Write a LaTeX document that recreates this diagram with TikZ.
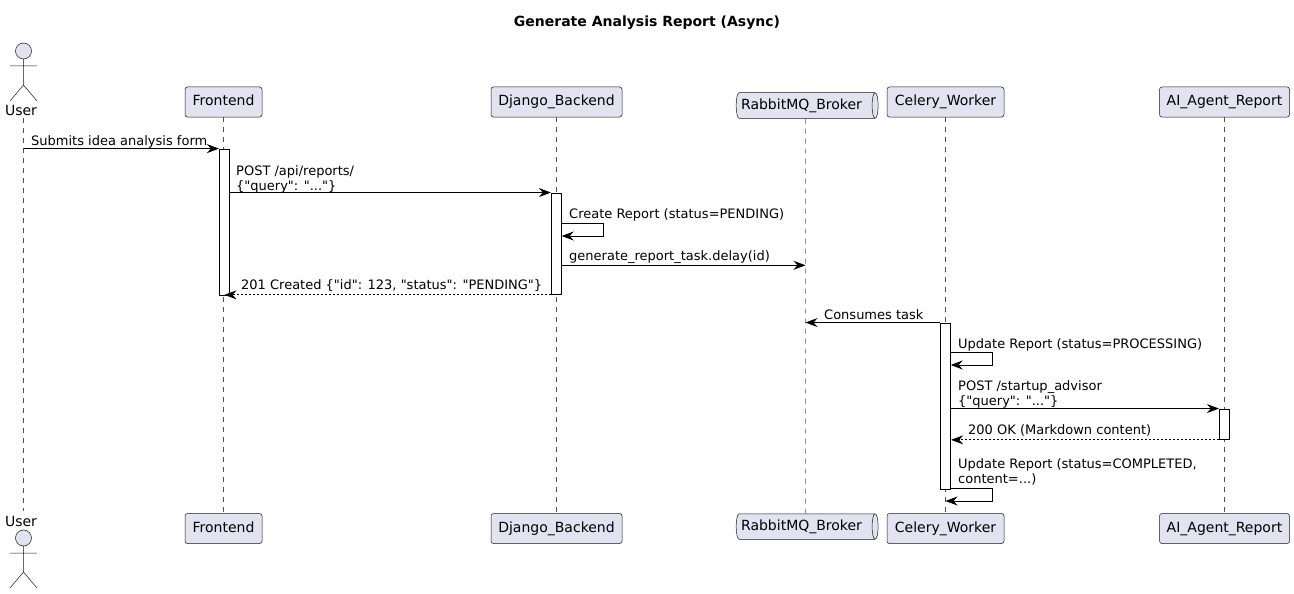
\documentclass[tikz,border=0pt]{standalone}
\usepackage{fontspec}
\setmainfont{DejaVu Sans}[Ligatures=TeXOff]
\usetikzlibrary{shapes.geometric, arrows.meta}
\definecolor{partfill}{HTML}{E2E2F0}
\definecolor{partline}{HTML}{181818}

\begin{document}
\begin{tikzpicture}[x=1pt, y=-1pt,
    part/.style={draw=partline, fill=partfill, line width=0.5pt, rounded corners=2.5, inner sep=0pt, minimum height=30pt, text height=10.5pt, text depth=3pt, font=\fontsize{14}{16}\selectfont},
    queue/.style={cylinder, draw=partline, fill=partfill, line width=0.5pt, aspect=0.45, inner sep=0pt, minimum height=142pt, minimum width=25.5pt, text height=10.5pt, text depth=3pt, font=\fontsize{14}{16}\selectfont},
    who/.style={inner sep=0pt, font=\fontsize{14}{16}\selectfont},
    act/.style={draw=black, fill=white, line width=0.8pt, inner sep=0pt, minimum width=10.4pt},
    msg/.style={anchor=base west, align=left, inner sep=0pt, font=\fontsize{13}{15}\selectfont},
    life/.style={draw=partline!75, line width=0.5pt, dash pattern=on 5pt off 5pt},
    n/.style={-{Stealth[length=12pt, width=9pt, inset=4pt]}, line width=0.8pt, black},
    d/.style={-{Stealth[length=12pt, width=9pt, inset=4pt]}, line width=0.8pt, black, dash pattern=on 2pt off 2pt},
    pics/stick/.style={code={
        \draw[draw=partline, fill=partfill, line width=0.5pt] (0,0) circle (8pt);
        \draw[draw=partline, line width=0.5pt] (0,8) -- (0,34) (-13.5,15) -- (13.5,15) (-13.5,50) -- (0,34) -- (13.5,50);
    }}]
    \useasboundingbox (0,0) rectangle (1294,594);
    \node[font=\bfseries\fontsize{14}{16}\selectfont, inner sep=0pt] (title) at (647,23) {Generate Analysis Report (Async)};
    % top row
    \pic at (23.5,51) {stick};
    \node[who] (usertop) at (21,110) {User};
    \node[part, minimum width=77pt] (fronttop) at (223.5,102) {Frontend};
    \node[part, minimum width=131pt] (djangotop) at (556.5,102) {Django\_Backend};
    \node[queue] (rabbittop) at (805.5,105.5) {RabbitMQ\_Broker\kern8pt};
    \node[part, minimum width=117pt] (celerytop) at (945.5,102) {Celery\_Worker};
    \node[part, minimum width=130pt] (aitop) at (1224.5,102) {AI\_Agent\_Report};
    % bottom row
    \node[who] (userbot) at (21,521) {User};
    \pic at (23.5,538) {stick};
    \node[part, minimum width=77pt] (frontbot) at (223.5,528.5) {Frontend};
    \node[part, minimum width=131pt] (djangobot) at (556.5,528.5) {Django\_Backend};
    \node[queue] (rabbitbot) at (805.5,526.5) {RabbitMQ\_Broker\kern8pt};
    \node[part, minimum width=117pt] (celerybot) at (945.5,528.5) {Celery\_Worker};
    \node[part, minimum width=130pt] (aibot) at (1224.5,528.5) {AI\_Agent\_Report};
    % lifelines
    \coordinate (usera) at (23.5,118);
    \coordinate (userb) at (23.5,511);
    \draw[life] (usera) -- (userb);
    \draw[life] (fronttop) -- (frontbot);
    \draw[life] (djangotop) -- (djangobot);
    \draw[life] (rabbittop) -- (rabbitbot);
    \draw[life] (celerytop) -- (celerybot);
    \draw[life] (aitop) -- (aibot);
    % activations
    \node[act, minimum height=146pt] (frontact) at (224.5,222) {};
    \node[act, minimum height=101.5pt] (djangoact) at (556.5,243.7) {};
    \node[act, minimum height=166.5pt] (celeryact) at (945.5,406.2) {};
    \node[act, minimum height=30.5pt] (aiact) at (1224.5,424.2) {};
    % edge ends
    \coordinate (createa) at (561.7,223.3);
    \coordinate (createb) at (561.7,236);
    \coordinate (geninit) at (561.7,265.3);
    \coordinate (procsa) at (950.7,352.3);
    \coordinate (procsb) at (950.7,365);
    \coordinate (donea) at (950.7,488.5);
    \coordinate (doneb) at (945.5,501);
    % edges
    \draw[n] (usera |- frontact.north) -- (frontact.north west);
    \node[msg] (submitlbl) at (31,145) {Submits idea analysis form};
    \draw[n] (frontact.east |- djangoact.north) -- (djangoact.north west);
    \node[msg] (postlbl) at (236,190) {POST /api/reports/\\\{"query": "..."\}};
    \draw[n] (createa) -- ++(41.6,0) -- ++(0,12.7) -- (createb);
    \node[msg] (createlbl) at (569,218) {Create Report (status=PENDING)};
    \draw[n] (geninit) -- (geninit -| rabbittop);
    \node[msg] (genlbl) at (569,260) {generate\_report\_task.delay(id)};
    \draw[d] (djangoact.south west) -- (frontact |- djangoact.south);
    \node[msg] (createdlbl) at (241,289) {201 Created \{"id": 123, "status": "PENDING"\}};
    \draw[n] (celeryact.north west) -- (rabbittop |- celeryact.north);
    \node[msg] (consumelbl) at (824,319) {Consumes task};
    \draw[n] (procsa) -- ++(41.8,0) -- ++(0,12.7) -- (procsb);
    \node[msg] (procslbl) at (958,348) {Update Report (status=PROCESSING)};
    \draw[n] (celeryact.east |- aiact.north) -- (aiact.north west);
    \node[msg] (advisorlbl) at (958,405) {POST /startup\_advisor\\\{"query": "..."\}};
    \draw[d] (aiact.south west) -- (celeryact.east |- aiact.south);
    \node[msg] (oklbl) at (968,434) {200 OK (Markdown content)};
    \draw[n] (donea) -- ++(41.8,0) -- ++(0,12.5) -- (doneb);
    \node[msg] (donelbl) at (958,483) {Update Report (status=COMPLETED,\\content=...)};
\end{tikzpicture}
\end{document}
